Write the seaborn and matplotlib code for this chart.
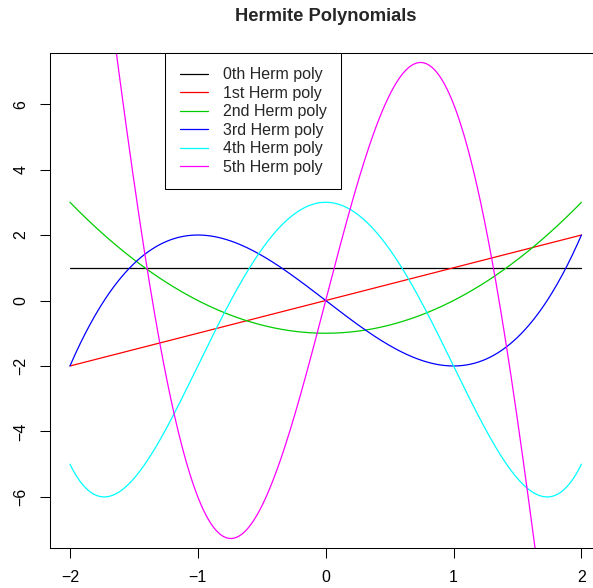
import numpy as np
import pandas as pd
import matplotlib
matplotlib.use("Agg")
import matplotlib.pyplot as plt
import seaborn as sns

# Data: Hermite (probabilists') polynomial coefficients, highest power first
labels = ["0th Herm poly", "1st Herm poly", "2nd Herm poly",
          "3rd Herm poly", "4th Herm poly", "5th Herm poly"]
coef_h0 = [1]
coef_h1 = [1, 0]
coef_h2 = [1, 0, -1]
coef_h3 = [1, 0, -3, 0]
coef_h4 = [1, 0, -6, 0, 3]
coef_h5 = [1, 0, -10, 0, 15, 0]
coefs = [coef_h0, coef_h1, coef_h2, coef_h3, coef_h4, coef_h5]
x_ticks = [-2, -1, 0, 1, 2]
y_ticks = [-6, -4, -2, 0, 2, 4, 6]
colors = ["black", "#FF0000", "#00CD00", "#0000FF", "#00FFFF", "#FF00FF"]

x = np.linspace(-2, 2, 401)
df = pd.concat(
    [pd.DataFrame({"x": x, "y": np.polyval(c, x), "poly": lab}) for c, lab in zip(coefs, labels)],
    ignore_index=True,
)

sns.set_style("white")
plt.rcParams["font.family"] = ["Liberation Sans", "DejaVu Sans"]

W, H = 593, 588
fig = plt.figure(figsize=(W / 100, H / 100), dpi=100)
ax = fig.add_axes([49.5 / W, 40 / H, 552.4 / W, 495 / H])

sns.lineplot(data=df, x="x", y="y", hue="poly", hue_order=labels, palette=colors,
             linewidth=0.9, ax=ax, sort=False, estimator=None)

ax.set_xlim(-2.16, 2.16)
ax.set_ylim(-7.56, 7.56)
ax.set_xticks(x_ticks)
ax.set_yticks(y_ticks)
ax.set_xticklabels([str(t).replace("-", "\u2212") for t in x_ticks])
ax.set_yticklabels([str(t).replace("-", "\u2212") for t in y_ticks], rotation=90, va="center")
ax.set_xlabel("")
ax.set_ylabel("")
ax.tick_params(axis="both", which="both", direction="out", length=7.2, width=0.75,
               color="black", labelsize=11.5, labelcolor="black", bottom=True, left=True)
ax.tick_params(axis="x", pad=9)
ax.tick_params(axis="y", pad=8)
for s in ax.spines.values():
    s.set_visible(True)
    s.set_color("black")
    s.set_linewidth(0.75)

handles, labs = ax.get_legend_handles_labels()
leg = ax.legend(handles, labs, loc="upper left", bbox_to_anchor=(-1.255, 7.56),
                bbox_transform=ax.transData, frameon=True, fancybox=False,
                edgecolor="black", framealpha=1, fontsize=11.5, handlelength=1.8,
                handletextpad=0.9, borderpad=0.9, labelspacing=0.22, borderaxespad=0)
leg.get_frame().set_linewidth(0.75)

fig.text(325.7 / W, 1 - 21 / H, "Hermite Polynomials", ha="center", va="baseline",
         fontweight="bold", fontsize=13.25)

fig.savefig("out.png", dpi=100)
